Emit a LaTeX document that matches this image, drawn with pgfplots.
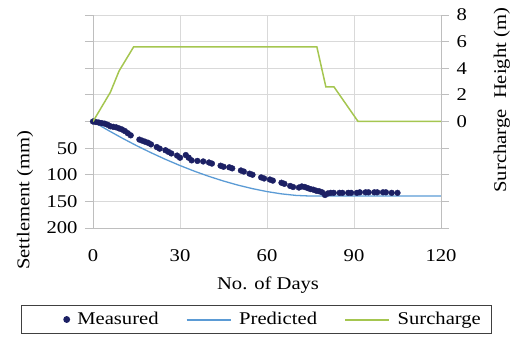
\documentclass[border=0pt]{standalone}
\usepackage{fontspec}
\setmainfont{Liberation Serif}[FakeStretch=1.15]
\usepackage{pgfplots}
\pgfplotsset{compat=1.18}
\definecolor{meas}{RGB}{28,32,100}
\definecolor{pred}{RGB}{91,155,213}
\definecolor{surch}{RGB}{165,198,80}
\definecolor{gridc}{RGB}{217,217,217}
\definecolor{axc}{RGB}{190,190,190}
\pgfplotsset{
  common/.style={
    at={(93bp,111bp)}, anchor=south west,
    scale only axis, width=348bp, height=213bp,
    xmin=0, xmax=120,
    font=\fontsize{18}{21}\selectfont,
    /pgf/number format/assume math mode=true,
    axis line style={axc, line width=0.8bp},
    tick align=outside, major tick length=8bp,
  },
  predleg/.style={legend image code/.code={\path (0bp,0bp) (50bp,0bp); \draw[draw=pred, line width=2bp] (0bp,0bp) -- (44bp,0bp);}},
  surchleg/.style={legend image code/.code={\path (0bp,0bp) (50bp,0bp); \draw[draw=surch, line width=2bp] (0bp,0bp) -- (44bp,0bp);}},
  markleg/.style={legend image code/.code={\path (0bp,0bp) (44bp,0bp); \fill[meas] (36bp,0bp) circle[radius=2.8bp];}},
}
\begin{document}
\begin{tikzpicture}
\useasboundingbox (0,0) rectangle (515bp,339bp);
\begin{axis}[common,
  xtick={0,30,60,90,120},
  ymin=-200, ymax=200, y dir=reverse,
  ytick={-200,-150,...,200},
  yticklabels={,,,,,50,100,150,200},
  grid=major, major grid style={gridc, line width=0.8bp},
  axis y line*=left, axis x line*=bottom,
  major x tick style={draw=none},
  major y tick style={axc, line width=0.8bp},
  xticklabel style={yshift=-10bp},
  yticklabel style={xshift=-4bp},
  xlabel={No. of Days}, ylabel={Settlement (mm)},
  xlabel style={at={(axis description cs:0.503,-0.27)}, anchor=center},
  ylabel style={at={(axis description cs:-0.195,0.131)}, anchor=center},
  legend columns=3,
  legend style={at={(axis description cs:0.4698,-0.4296)}, anchor=center,
    draw=black!75, line width=1.2bp, font=\fontsize{18}{21}\selectfont,
    /tikz/every even column/.append style={column sep=25bp},
    inner ysep=5bp, inner xsep=9bp},
  legend cell align=left,
]
\addplot[pred, line width=1.3bp, forget plot] coordinates {
(0,0) (5,15.9) (10,31.0) (15,45.3) (20,58.6) (25,71.1) (30,82.7) (35,93.4)
(40,103.1) (45,111.8) (50,119.5) (55,126.1) (60,131.6) (65,135.9) (70,138.8)
(75,140) (120,140)};
\addplot[only marks, mark=*, mark size=2.9bp, color=meas, markleg]
 coordinates {
(0,0) (1,1) (2,2) (3,3) (4,4) (5,6) (6,9) (7,10) (8,11) (9,13) (10,15) (11,18)
(12,22) (13,26) (16,34) (17,36) (18,38) (19,40) (20,43) (22,48) (23,51) (25,54)
(26,57) (27,60) (29,64) (30,68) (32,63) (33,68) (34,73) (36,74) (38,75) (40,77)
(41,79) (44,83) (45,85) (47,86) (48,88) (51,92) (52,94) (54,98) (55,100) (58,105)
(59,107) (61,109) (62,111) (65,115) (66,117) (68,121) (69,123) (71,124) (72,122)
(73,123) (74,125) (75,127) (76,128) (77,130) (78,131) (79,133) (80,138) (81,135)
(82,134) (83,134) (85,134) (86,134) (88,134) (89,134) (91,134) (92,133) (94,133)
(95,133) (97,133) (98,133) (100,133) (101,133) (103,134) (105,134)};
\addlegendentry{Measured}
\addlegendimage{predleg}
\addlegendentry{Predicted}
\addlegendimage{surchleg}
\addlegendentry{Surcharge}
\end{axis}
\begin{axis}[common,
  hide x axis,
  axis y line*=right,
  ymin=-8, ymax=8,
  ytick={-8,-6,...,8},
  yticklabels={,,,,0,2,4,6,8},
  major y tick style={axc, line width=0.8bp},
  yticklabel style={xshift=4bp},
  ylabel={Surcharge\ \ Height (m)},
  ylabel style={at={(axis description cs:1.175,0.6)}, anchor=center},
]
\addplot[surch, line width=1.5bp] coordinates {
(0,0) (3,1.1) (6,2.2) (9,3.8) (14,5.6) (77.2,5.6) (80.3,2.6) (83.1,2.6) (91.4,0) (120,0)};
\end{axis}
\end{tikzpicture}
\end{document}
